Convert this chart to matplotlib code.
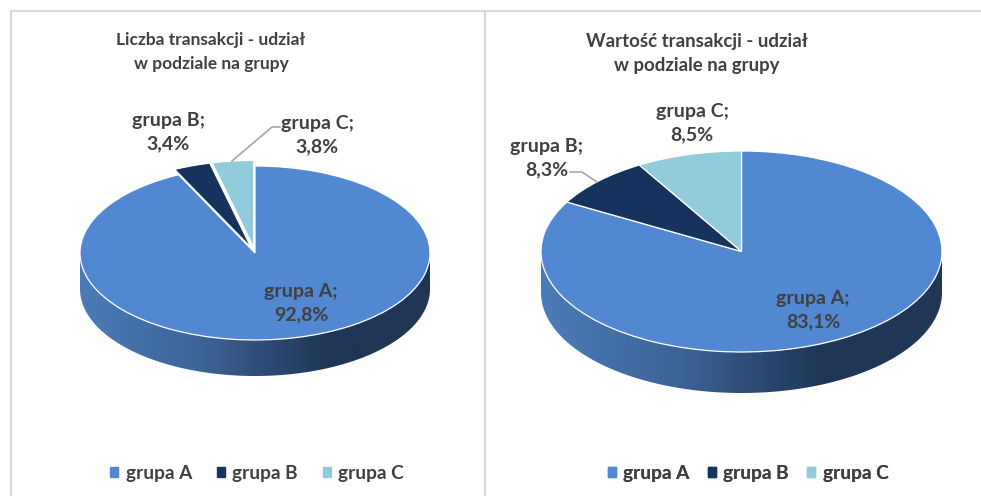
import matplotlib
matplotlib.use("Agg")
import numpy as np
import matplotlib.pyplot as plt
from matplotlib.colors import LinearSegmentedColormap
from matplotlib.patches import Polygon, Patch

plt.rcParams['font.family'] = ['Lato', 'DejaVu Sans']

# Data
groups = ['grupa A', 'grupa B', 'grupa C']
count_share = [92.8, 3.4, 3.8]
value_share = [83.1, 8.3, 8.5]
count_title = 'Liczba transakcji - udział\nw podziale na grupy'
value_title = 'Wartość transakcji - udział\nw podziale na grupy'

colors = ['#5287d2', '#15335c', '#92cbdb']
text_color = '#404040'
W, H = 981, 496

side_cmap = LinearSegmentedColormap.from_list(
    'side', [(0, '#4b7cb9'), (0.35, '#3c6396'), (0.7, '#1f3656'), (1, '#1f3656')])

fig = plt.figure(figsize=(W / 100, H / 100), dpi=100)

# Overlay in pixel coordinates for frame, texts and leader lines
over = fig.add_axes([0, 0, 1, 1], zorder=5)
over.set_xlim(0, W)
over.set_ylim(H, 0)
over.axis('off')
over.patch.set_alpha(0)


def draw_pie(values, cx, cy, rx, ry, depth, explode):
    # axes box is scaled so that the unit circle of pie() becomes the ellipse
    m = 1.6
    ax = fig.add_axes([(cx - m * rx) / W, 1 - (cy + m * ry) / H, 2 * m * rx / W, 2 * m * ry / H])
    wedges, _ = ax.pie(values, colors=colors, startangle=90, counterclock=False, explode=explode,
                       wedgeprops=dict(edgecolor='white', linewidth=0.9))
    for w in wedges:
        w.set_zorder(3)

    # side of the disc
    t = np.linspace(np.pi, 2 * np.pi, 200)
    d = depth / ry
    xs = np.r_[np.cos(t), np.cos(t[::-1])]
    ys = np.r_[np.sin(t), np.sin(t[::-1]) - d]
    grad = np.linspace(0, 1, 256).reshape(1, -1)
    im = ax.imshow(grad, cmap=side_cmap, extent=(-1, 1, -1 - d, 0), aspect='auto', zorder=1)
    clip = Polygon(np.c_[xs, ys], closed=True, transform=ax.transData, fc='none', ec='none')
    ax.add_patch(clip)
    im.set_clip_path(clip)

    ax.set_aspect('auto')
    ax.set_xlim(-m, m)
    ax.set_ylim(-m, m)
    ax.axis('off')
    return wedges


def put_labels(values, positions):
    for name, v, (x, y) in zip(groups, values, positions):
        s = f"{name};\n{v:.1f}%".replace('.', ',')
        over.text(x, y, s, ha='center', va='center', fontsize=14, fontweight='bold',
                  color=text_color, linespacing=1.42)


draw_pie(count_share, 255, 253, 175, 87, 36, [0, 0.065, 0.065])
draw_pie(value_share, 741.5, 251.5, 200.5, 100.5, 41, [0, 0, 0])

put_labels(count_share, [(301, 303), (168, 132), (317, 135)])
put_labels(value_share, [(813, 310), (547, 158), (692, 123)])

over.text(211, 52, count_title, ha='center', va='center', fontsize=12.5, fontweight='bold',
          color=text_color, linespacing=1.65)
over.text(696.5, 54, value_title, ha='center', va='center', fontsize=13.4, fontweight='bold',
          color=text_color, linespacing=1.5)

# Leader lines
over.plot([232, 272, 280], [161, 127, 127], color='#a6a6a6', lw=1.2)
over.plot([570, 582, 597], [172, 172, 182], color='#a6a6a6', lw=1.2)

# Panel frame
frame = dict(color='#d9d9d9', lw=1.5)
over.plot([11, 981], [10.5, 10.5], **frame)
over.plot([11, 11], [10.5, 496], **frame)
over.plot([484.5, 484.5], [10.5, 496], **frame)

# Legends
handles = [Patch(color=c) for c in colors]
for x0, spacing in ((257, 1.3), (748, 0.95)):
    leg = over.legend(handles, groups, ncol=3, frameon=False, loc='center',
                      bbox_to_anchor=(x0, 473), bbox_transform=over.transData,
                      handlelength=0.42, handleheight=0.42, handletextpad=0.4, columnspacing=spacing,
                      labelcolor=text_color, prop=dict(family='Lato', weight='bold', size=13.7))
    over.add_artist(leg)

fig.savefig('out.png', dpi=100)
